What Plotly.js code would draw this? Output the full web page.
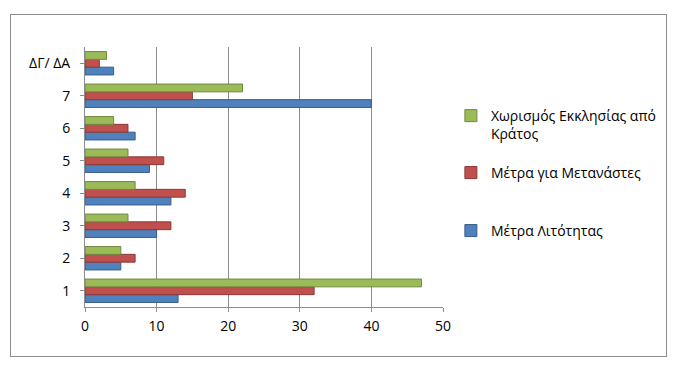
<!DOCTYPE html>
<html><head><meta charset="utf-8">
<script src="https://cdn.plot.ly/plotly-3.0.1.min.js"></script>
<style>
body{margin:0;padding:0;background:#fff;}
#frame{position:absolute;left:10px;top:14px;width:655px;height:341px;border:1px solid #8c8c8c;}
#chart{position:absolute;left:0;top:0;width:674px;height:388px;}
</style></head>
<body>
<div id="frame"></div>
<div id="chart"></div>
<script>
const categories = ["1","2","3","4","5","6","7","ΔΓ/ ΔΑ"];
const austerity = [13, 5, 10, 12, 9, 7, 40, 4];
const migrants = [32, 7, 12, 14, 11, 6, 15, 2];
const separation = [47, 5, 6, 7, 6, 4, 22, 3];
const seriesNames = ["Μέτρα Λιτότητας", "Μέτρα για Μετανάστες", "Χωρισμός Εκκλησίας από<br>Κράτος"];
const xTicks = [0, 10, 20, 30, 40, 50];

const fontFam = "'Open Sans', sans-serif";
function tr(vals, name, color, line, leg){
  return {type:'bar', orientation:'h', x:vals, y:categories, name:name, legend:leg,
    marker:{color:color, line:{color:line, width:1}}};
}
const data = [
  tr(austerity, seriesNames[0], '#4F81BD', '#385D8A', 'legend3'),
  tr(migrants, seriesNames[1], '#C0504D', '#8C3836', 'legend2'),
  tr(separation, seriesNames[2], '#9BBB59', '#71893F', 'legend')
];
function leg(y){
  return {x:1.022, y:y, xanchor:'left', yanchor:'top', valign:'top',
    font:{size:14}, itemwidth:30, bgcolor:'rgba(0,0,0,0)'};
}
const layout = {
  width:674, height:388,
  margin:{l:85, r:231, t:47, b:81, autoexpand:false},
  paper_bgcolor:'rgba(0,0,0,0)', plot_bgcolor:'#fff',
  barmode:'group', bargap:0.28, bargroupgap:0,
  font:{family:fontFam, size:14, color:'#000'},
  xaxis:{range:[0,50], tickvals:xTicks, showgrid:true, gridcolor:'#8c8c8c', gridwidth:1,
    zeroline:false, showline:true, linecolor:'#8c8c8c', ticks:'outside', ticklen:4, tickcolor:'#8c8c8c',
    ticklabelstandoff:2, tickfont:{size:14}},
  yaxis:{type:'category', categoryorder:'array', categoryarray:categories, showgrid:false,
    showline:true, linecolor:'#8c8c8c', ticks:'outside', ticklen:4, tickcolor:'#8c8c8c',
    tickfont:{size:14}, ticklabelstandoff:7},
  showlegend:true,
  legend:leg(0.796),
  legend2:leg(0.577),
  legend3:leg(0.354)
};
Plotly.newPlot('chart', data, layout, {displayModeBar:false, staticPlot:true});
</script>
</body></html>
